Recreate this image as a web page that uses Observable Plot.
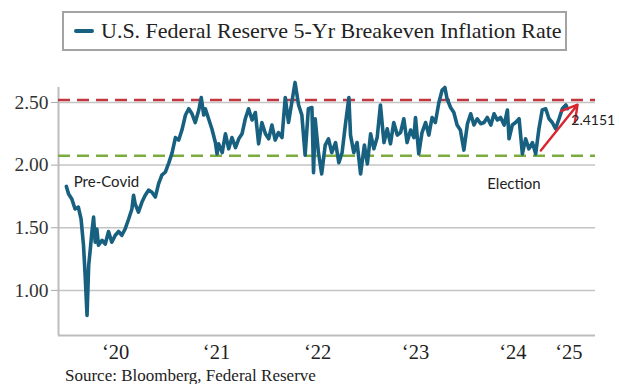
<!DOCTYPE html>
<html><head><meta charset="utf-8">
<script src="https://cdn.jsdelivr.net/npm/d3@7"></script>
<script src="https://cdn.jsdelivr.net/npm/@observablehq/plot@0.6"></script>
<style>
body{margin:0;background:#fff;}
#wrap{position:relative;width:619px;height:384px;overflow:hidden;}
#head{position:relative;height:64px;}
#legend{position:absolute;left:62px;top:11px;width:505px;height:40px;box-sizing:border-box;border:2px solid #a3a3a3;font-family:"Liberation Serif",serif;font-size:22px;color:#222;}
#legend .sw{position:absolute;left:10px;top:16px;width:20px;height:4px;border-radius:2px;background:#18607f;}
#legend .tx{position:absolute;left:37px;top:6px;line-height:24px;white-space:nowrap;}
#source{position:relative;height:16px;font-family:"Liberation Serif",serif;font-size:17px;color:#222;padding-left:65px;line-height:16px;white-space:nowrap;}
</style></head>
<body>
<div id="wrap">
<div id="head"><div id="legend"><div class="sw"></div><div class="tx">U.S. Federal Reserve 5-Yr Breakeven Inflation Rate</div></div></div>
<div id="chart"></div>
<div id="source">Source: Bloomberg, Federal Reserve</div>
</div>
<script>
const dates = ["2020-01-02","2020-01-10","2020-01-22","2020-02-03","2020-02-15","2020-02-25","2020-03-05","2020-03-11","2020-03-18","2020-03-24","2020-03-30","2020-04-05","2020-04-11","2020-04-17","2020-04-23","2020-04-29","2020-05-12","2020-05-24","2020-06-05","2020-06-17","2020-06-30","2020-07-12","2020-07-24","2020-08-05","2020-08-18","2020-08-30","2020-09-05","2020-09-11","2020-09-23","2020-10-06","2020-10-18","2020-10-30","2020-11-11","2020-11-24","2020-12-06","2020-12-18","2020-12-31",
"2021-01-13","2021-01-25","2021-02-06","2021-02-18","2021-03-02","2021-03-15","2021-03-27","2021-04-08","2021-04-20","2021-05-03","2021-05-12","2021-05-21","2021-05-27","2021-06-08","2021-06-20","2021-07-03","2021-07-09","2021-07-15","2021-07-28","2021-08-09","2021-08-21","2021-09-02","2021-09-15","2021-09-27","2021-10-09","2021-10-21","2021-11-02","2021-11-15","2021-11-27","2021-12-09","2021-12-21",
"2022-01-03","2022-01-15","2022-01-27","2022-02-08","2022-02-20","2022-03-05","2022-03-17","2022-03-29","2022-04-10","2022-04-22","2022-05-05","2022-05-17","2022-05-29","2022-06-10","2022-06-23","2022-06-29","2022-07-05","2022-07-17","2022-07-29","2022-08-11","2022-08-23","2022-09-04","2022-09-18","2022-09-30","2022-10-12","2022-10-24","2022-11-06","2022-11-12","2022-11-24","2022-12-06","2022-12-19",
"2023-01-02","2023-01-13","2023-01-25","2023-02-06","2023-02-18","2023-03-02","2023-03-15","2023-03-27","2023-04-08","2023-04-20","2023-05-03","2023-05-15","2023-05-27","2023-06-08","2023-06-21","2023-07-03","2023-07-09","2023-07-21","2023-08-02","2023-08-15","2023-08-27","2023-09-08","2023-09-20","2023-10-03","2023-10-15","2023-10-25","2023-11-02","2023-11-15","2023-11-27","2023-12-09","2023-12-21",
"2024-01-03","2024-01-16","2024-01-28","2024-02-09","2024-02-21","2024-03-05","2024-03-17","2024-03-29","2024-04-11","2024-04-23","2024-05-05","2024-05-17","2024-05-30","2024-06-11","2024-06-17","2024-06-29","2024-07-11","2024-07-24","2024-08-05","2024-08-17","2024-08-29","2024-09-11","2024-09-23","2024-10-05","2024-10-17","2024-10-30","2024-11-11","2024-11-23","2024-12-05","2024-12-18","2024-12-30","2025-01-12","2025-01-18"];
const values = [1.83,1.77,1.73,1.65,1.665,1.57,1.36,1.12,0.80,1.20,1.33,1.47,1.585,1.385,1.49,1.36,1.40,1.37,1.47,1.385,1.44,1.47,1.44,1.49,1.57,1.65,1.76,1.69,1.625,1.705,1.76,1.80,1.785,1.745,1.85,1.92,1.945,
2.02,2.10,2.22,2.20,2.28,2.40,2.45,2.41,2.34,2.44,2.54,2.40,2.45,2.37,2.29,2.18,2.09,2.17,2.10,2.25,2.13,2.22,2.14,2.21,2.25,2.37,2.45,2.36,2.42,2.17,2.34,
2.25,2.21,2.32,2.20,2.26,2.22,2.54,2.34,2.50,2.66,2.48,2.40,2.08,2.45,2.46,1.94,2.37,2.10,1.93,2.16,2.21,2.10,2.18,2.02,2.10,2.32,2.54,2.24,2.10,2.18,1.93,
2.16,2.01,2.25,2.13,2.22,2.48,2.18,2.29,2.17,2.34,2.24,2.26,2.37,2.18,2.28,2.22,2.38,2.09,2.26,2.34,2.24,2.38,2.34,2.50,2.60,2.62,2.53,2.46,2.42,2.32,2.28,
2.12,2.33,2.41,2.32,2.37,2.33,2.34,2.38,2.32,2.41,2.36,2.38,2.32,2.44,2.21,2.32,2.34,2.37,2.09,2.21,2.13,2.18,2.09,2.29,2.44,2.45,2.37,2.34,2.29,2.37,2.45,2.48,2.45];

const refLevels = [2.52, 2.075];
const refColors = ["#c1363f", "#7cab3e"];
const yTicks = [1.0, 1.5, 2.0, 2.5];
const tickDates = ["2020-07-01","2021-07-07","2022-07-14","2023-07-09","2024-07-01","2025-01-23"];
const tickLabels = ["\u201820","\u201821","\u201822","\u201823","\u201824","\u201825"];
const noteDates = ["2020-01-29","2024-07-05","2025-02-01"];
const noteValues = [1.864, 1.846, 2.357];
const noteTexts = ["Pre-Covid","Election","2.4151"];
const noteAnchors = ["start","middle","start"];
const arrowFrom = {date:"2024-10-12", value:2.117};
const arrowTo = {date:"2025-02-24", value:2.482};

const parse = d3.utcParse("%Y-%m-%d");
const series = dates.map((d,i)=>({date:parse(d), value:values[i]}));
const refs = refLevels.map((v,i)=>({value:v, color:refColors[i]}));
const labelMap = new Map(tickDates.map((d,i)=>[+parse(d), tickLabels[i]]));
const notes = noteDates.map((d,i)=>({date:parse(d), value:noteValues[i], text:noteTexts[i], anchor:noteAnchors[i]}));
const arrows = [{x1:parse(arrowFrom.date), y1:arrowFrom.value, x2:parse(arrowTo.date), y2:arrowTo.value}];

const chart = Plot.plot({
  width: 619, height: 304,
  marginTop: 0.4, marginBottom: 33, marginLeft: 58, marginRight: 24,
  style: {fontFamily: "'Liberation Serif', serif", fontSize: "19px", color: "#333", background: "white", overflow: "visible"},
  x: {type: "utc", domain: [parse("2019-12-04"), parse("2025-05-01")]},
  y: {domain: [0.64, 2.80]},
  marks: [
    Plot.gridY(yTicks, {stroke: "#c4c4c4", strokeOpacity: 1, strokeWidth: 1.5}),
    Plot.ruleY([0.64], {stroke: "#bdbdbd", strokeWidth: 2}),
    Plot.ruleX([parse("2019-12-04")], {y1: 0.64, y2: 2.62, stroke: "#bdbdbd", strokeWidth: 2}),
    Plot.axisY({ticks: yTicks, tickFormat: d => d.toFixed(2), tickSize: 7, tickPadding: 3, stroke: "#aaa", fill: "#333", fontSize: 19.5}),
    Plot.axisX({ticks: tickDates.map(parse), tickFormat: d => labelMap.get(+d), tickSize: 0, tickPadding: 9, fill: "#222", fontSize: 20.5}),
    Plot.ruleY(refs, {y: "value", stroke: "color", strokeWidth: 2.5, strokeDasharray: "12,7"}),
    Plot.line(series, {x: "date", y: "value", stroke: "#18607f", strokeWidth: 3.6, strokeLinejoin: "round"}),
    Plot.arrow(arrows, {x1: "x1", y1: "y1", x2: "x2", y2: "y2", stroke: "#d9252f", strokeWidth: 2.4, headLength: 11}),
    Plot.text(notes.filter(d=>d.text==="2.4151"), {x: "date", y: "value", text: "text", textAnchor: "start", fontFamily: "Lato, sans-serif", fontSize: 14, fill: "#222"}),
    Plot.text(notes.filter(d=>d.text==="Pre-Covid"), {x: "date", y: "value", text: "text", textAnchor: "start", fontFamily: "Lato, sans-serif", fontSize: 15, fill: "#222"}),
    Plot.text(notes.filter(d=>d.anchor==="middle"), {x: "date", y: "value", text: "text", textAnchor: "middle", fontFamily: "Lato, sans-serif", fontSize: 15, fill: "#222"})
  ]
});
document.getElementById("chart").appendChild(chart);
</script>
</body></html>
